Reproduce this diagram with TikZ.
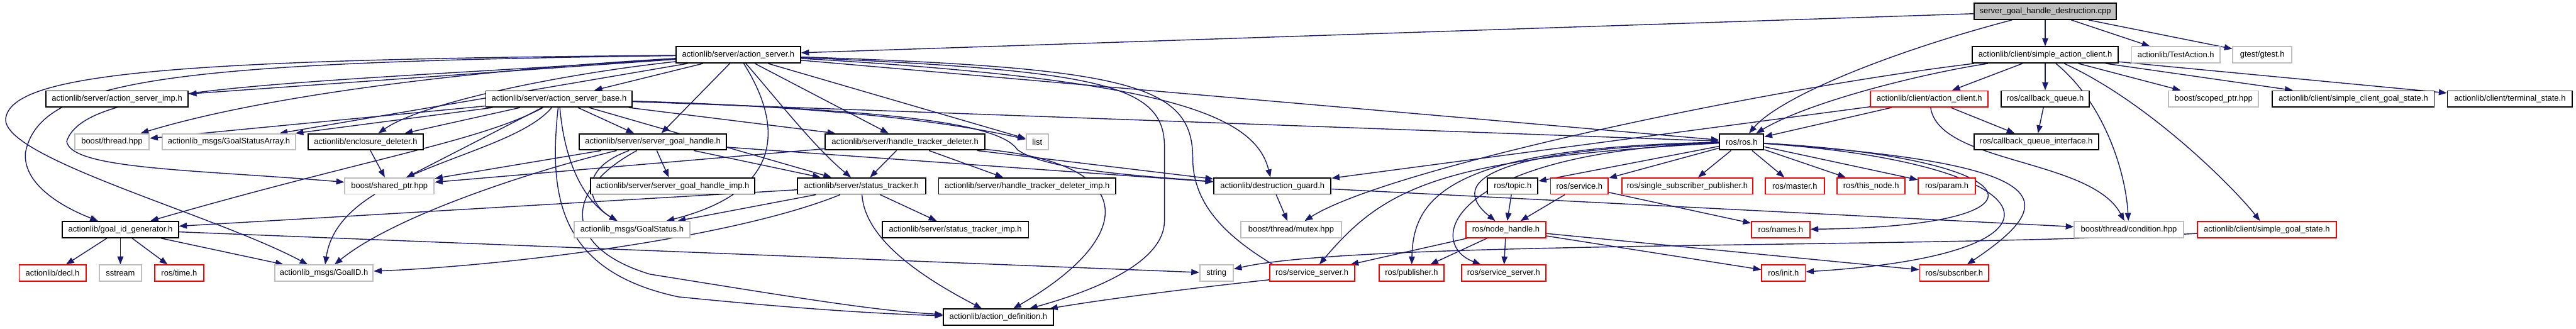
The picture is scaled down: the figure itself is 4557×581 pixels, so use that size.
\documentclass[tikz,border=0pt]{standalone}
\usepackage{fontspec}
\setmainfont{Liberation Sans}
\usepackage{xcolor}
\definecolor{edgeblue}{HTML}{191970}
\definecolor{extgray}{HTML}{BFBFBF}
\definecolor{truncred}{HTML}{FF0000}
\usetikzlibrary{arrows.meta, backgrounds}

\begin{document}
\begin{tikzpicture}[x=0.01cm, y=-0.01cm,
  every node/.style={font=\fontsize{4.1}{5}\selectfont, inner sep=0pt, minimum height=0.285cm},
  hdr/.style={draw=black, line width=0.6pt, fill=white},
  ext/.style={draw=extgray, line width=0.6pt, fill=white},
  trunc/.style={draw=truncred, line width=0.6pt, fill=white},
  root/.style={draw=black, line width=0.6pt, fill=extgray},
  inc/.style={draw=edgeblue, line width=0.45pt, -{Triangle[length=4pt,width=3pt]}}]

  \useasboundingbox (0,0) rectangle (4557,581);

  % Root and first level
  \node[root, minimum width=2.52cm] (cpp) at (3618,20) {server\_goal\_handle\_destruction.cpp};
  \node[hdr, minimum width=2.20cm] (as) at (1306,97) {actionlib/server/action\_server.h};
  \node[hdr, minimum width=2.58cm] (sac) at (3618,97) {actionlib/client/simple\_action\_client.h};
  \node[ext, minimum width=1.56cm] (testact) at (3849,97) {actionlib/TestAction.h};
  \node[ext, minimum width=1.04cm] (gtest) at (4002,97) {gtest/gtest.h};

  % Row 3
  \node[hdr, minimum width=2.51cm] (asimp) at (207,175) {actionlib/server/action\_server\_imp.h};
  \node[hdr, minimum width=2.59cm] (asbase) at (989,175) {actionlib/server/action\_server\_base.h};
  \node[trunc, minimum width=2.08cm] (ac) at (3413,175) {actionlib/client/action\_client.h};
  \node[hdr, minimum width=1.56cm] (cbq) at (3618,175) {ros/callback\_queue.h};
  \node[ext, minimum width=1.59cm] (scoped) at (3916,175) {boost/scoped\_ptr.hpp};
  \node[hdr, minimum width=2.86cm] (scgs) at (4163,175) {actionlib/client/simple\_client\_goal\_state.h};
  \node[hdr, minimum width=2.21cm] (term) at (4440,175) {actionlib/client/terminal\_state.h};

  % Row 4
  \node[ext, minimum width=1.32cm] (thread) at (198,251) {boost/thread.hpp};
  \node[ext, minimum width=2.36cm] (gsa) at (405,251) {actionlib\_msgs/GoalStatusArray.h};
  \node[hdr, minimum width=2.03cm] (encl) at (647,251) {actionlib/enclosure\_deleter.h};
  \node[hdr, minimum width=2.60cm] (sgh) at (1155,251) {actionlib/server/server\_goal\_handle.h};
  \node[hdr, minimum width=2.82cm] (htd) at (1601,251) {actionlib/server/handle\_tracker\_deleter.h};
  \node[ext, minimum width=0.39cm] (list) at (1835,251) {list};
  \node[hdr, minimum width=0.78cm] (ros) at (3081,251) {ros/ros.h};
  \node[hdr, minimum width=2.20cm] (cbqi) at (3602,251) {ros/callback\_queue\_interface.h};

  % Row 5
  \node[ext, minimum width=1.58cm] (shared) at (689,329) {boost/shared\_ptr.hpp};
  \node[hdr, minimum width=2.90cm] (sghimp) at (1190,329) {actionlib/server/server\_goal\_handle\_imp.h};
  \node[hdr, minimum width=2.27cm] (st) at (1524,329) {actionlib/server/status\_tracker.h};
  \node[hdr, minimum width=3.13cm] (htdimp) at (1817,329) {actionlib/server/handle\_tracker\_deleter\_imp.h};
  \node[hdr, minimum width=2.07cm] (dg) at (2251,329) {actionlib/destruction\_guard.h};
  \node[hdr, minimum width=0.89cm] (topic) at (2676,329) {ros/topic.h};
  \node[trunc, minimum width=1.02cm] (service) at (2794,329) {ros/service.h};
  \node[trunc, minimum width=2.31cm] (ssp) at (2985,329) {ros/single\_subscriber\_publisher.h};
  \node[trunc, minimum width=1.04cm] (master) at (3175,329) {ros/master.h};
  \node[trunc, minimum width=1.20cm] (thisnode) at (3310,329) {ros/this\_node.h};
  \node[trunc, minimum width=1.01cm] (param) at (3444,329) {ros/param.h};

  % Row 6
  \node[hdr, minimum width=2.05cm] (gidgen) at (213,406) {actionlib/goal\_id\_generator.h};
  \node[ext, minimum width=2.04cm] (gs) at (1118,406) {actionlib\_msgs/GoalStatus.h};
  \node[hdr, minimum width=2.59cm] (stimp) at (1690,406) {actionlib/server/status\_tracker\_imp.h};
  \node[ext, minimum width=1.78cm] (mutex) at (2284,406) {boost/thread/mutex.hpp};
  \node[trunc, minimum width=1.41cm] (nh) at (2664,406) {ros/node\_handle.h};
  \node[trunc, minimum width=1.03cm] (names) at (3150,406) {ros/names.h};
  \node[ext, minimum width=1.93cm] (cond) at (3766,406) {boost/thread/condition.hpp};
  \node[trunc, minimum width=2.45cm] (sgs) at (4010,406) {actionlib/client/simple\_goal\_state.h};

  % Row 7
  \node[trunc, minimum width=1.18cm] (decl) at (93,483) {actionlib/decl.h};
  \node[ext, minimum width=0.74cm] (sstream) at (213,483) {sstream};
  \node[trunc, minimum width=0.86cm] (rtime) at (317,483) {ros/time.h};
  \node[ext, minimum width=1.74cm] (goalid) at (573,483) {actionlib\_msgs/GoalID.h};
  \node[ext, minimum width=0.59cm] (string) at (2152,483) {string};
  \node[trunc, minimum width=1.50cm] (srv1) at (2321,483) {ros/service\_server.h};
  \node[trunc, minimum width=1.15cm] (pub) at (2497,483) {ros/publisher.h};
  \node[trunc, minimum width=1.49cm] (srv2) at (2660,483) {ros/service\_server.h};
  \node[trunc, minimum width=0.77cm] (init) at (3155,483) {ros/init.h};
  \node[trunc, minimum width=1.22cm] (sub) at (3457,483) {ros/subscriber.h};

  % Bottom
  \node[hdr, minimum width=1.94cm] (adef) at (1766,561) {actionlib/action\_definition.h};

  \begin{pgfonlayer}{background}
  \fill[white] (0,0) rectangle (4557,581);

  % root
  \draw[inc] (cpp) -- (as);
  \draw[inc] (cpp) -- (sac);
  \draw[inc] (cpp) -- (testact);
  \draw[inc] (cpp) -- (gtest);
  \draw[inc] (cpp) .. controls (3350,90) and (3150,170) .. (ros);

  % simple action client
  \draw[inc] (sac) -- (ac);
  \draw[inc] (sac) -- (cbq);
  \draw[inc] (sac) -- (scoped);
  \draw[inc] (sac) -- (scgs);
  \draw[inc] (sac) -- (term);
  \draw[inc] (sac) .. controls (3400,130) and (3200,180) .. (ros);
  \draw[inc] (sac) .. controls (3100,160) and (2450,300) .. (mutex);
  \draw[inc] (sac) .. controls (3720,180) and (3760,300) .. (cond);
  \draw[inc] (sac) .. controls (3800,180) and (3950,330) .. (sgs);
  \draw[inc] (ac) -- (ros);
  \draw[inc] (ac) -- (cbqi);
  \draw[inc] (ac) -- (dg);
  \draw[inc] (ac) .. controls (3430,290) and (3700,280) .. (cond);
  \draw[inc] (cbq) -- (cbqi);

  % action server
  \draw[inc] (as) -- (asimp);
  \draw[inc] (as) -- (asbase);
  \draw[inc] (as) .. controls (900,120) and (500,160) .. (thread);
  \draw[inc] (as) -- (gsa);
  \draw[inc] (as) .. controls (1000,130) and (750,180) .. (encl);
  \draw[inc] (as) .. controls (500,150) and (150,150) .. (118,250) .. controls (125,300) and (350,300) .. (shared);
  \draw[inc] (as) .. controls (300,110) and (70,140) .. (45,270) .. controls (40,330) and (120,370) .. (gidgen);
  \draw[inc] (as) .. controls (300,105) and (20,130) .. (10,210) .. controls (5,280) and (380,380) .. (goalid);
  \draw[inc] (as) -- (sgh);
  \draw[inc] (as) .. controls (1370,170) and (1440,260) .. (st);
  \draw[inc] (as) .. controls (1390,230) and (1380,340) .. (gs);
  \draw[inc] (as) -- (htd);
  \draw[inc] (as) -- (list);
  \draw[inc] (as) -- (ros);
  \draw[inc] (as) .. controls (2050,140) and (2220,200) .. (dg);
  \draw[inc] (as) .. controls (1950,125) and (2060,150) .. (2060,260) -- (2060,390) .. controls (2060,460) and (1950,510) .. (adef);
  \draw[inc] (as) .. controls (2000,120) and (2110,150) .. (2110,280) .. controls (2110,380) and (2200,440) .. (2290,490) .. controls (2100,510) and (1950,530) .. (adef);

  % server base
  \draw[inc] (asbase) -- (thread);
  \draw[inc] (asbase) -- (gsa);
  \draw[inc] (asbase) -- (encl);
  \draw[inc] (asbase) -- (shared);
  \draw[inc] (asbase) .. controls (850,250) and (650,280) .. (gidgen);
  \draw[inc] (asbase) .. controls (900,280) and (600,300) .. (goalid);
  \draw[inc] (asbase) .. controls (1000,300) and (1040,360) .. (gs);
  \draw[inc] (asbase) -- (sgh);
  \draw[inc] (asbase) -- (htd);
  \draw[inc] (asbase) -- (st);
  \draw[inc] (asbase) .. controls (1500,190) and (1700,220) .. (list);
  \draw[inc] (asbase) -- (ros);
  \draw[inc] (asbase) .. controls (1600,195) and (1770,220) .. (1800,265) .. controls (1850,300) and (2000,310) .. (dg);
  \draw[inc] (asbase) .. controls (970,350) and (990,480) .. (1200,525) .. controls (1400,545) and (1550,555) .. (adef);

  % goal handle and trackers
  \draw[inc] (sgh) -- (shared);
  \draw[inc] (sgh) -- (sghimp);
  \draw[inc] (sgh) -- (st);
  \draw[inc] (sgh) .. controls (1020,300) and (1040,360) .. (gs);
  \draw[inc] (sgh) .. controls (950,300) and (700,380) .. (goalid);
  \draw[inc] (sgh) -- (dg);
  \draw[inc] (sgh) .. controls (990,340) and (1000,440) .. (1150,485) .. controls (1400,525) and (1550,550) .. (adef);
  \draw[inc] (htd) -- (shared);
  \draw[inc] (htd) -- (st);
  \draw[inc] (htd) -- (htdimp);
  \draw[inc] (htd) -- (dg);
  \draw[inc] (htd) .. controls (2020,290) and (2010,420) .. (adef);
  \draw[inc] (st) -- (gs);
  \draw[inc] (st) -- (stimp);
  \draw[inc] (st) -- (gidgen);
  \draw[inc] (st) .. controls (1300,420) and (900,470) .. (goalid);
  \draw[inc] (st) .. controls (1530,430) and (1650,500) .. (adef);
  \draw[inc] (encl) -- (shared);

  % goal id generator
  \draw[inc] (gidgen) -- (decl);
  \draw[inc] (gidgen) -- (sstream);
  \draw[inc] (gidgen) -- (rtime);
  \draw[inc] (gidgen) -- (goalid);
  \draw[inc] (gidgen) -- (string);
  \draw[inc] (dg) -- (mutex);
  \draw[inc] (dg) -- (cond);
  \draw[inc] (sgs) .. controls (3400,440) and (2400,425) .. (string);

  % ros
  \draw[inc] (ros) -- (topic);
  \draw[inc] (ros) -- (service);
  \draw[inc] (ros) -- (ssp);
  \draw[inc] (ros) -- (master);
  \draw[inc] (ros) -- (thisnode);
  \draw[inc] (ros) -- (param);
  \draw[inc] (ros) .. controls (2600,265) and (2570,330) .. (nh);
  \draw[inc] (ros) .. controls (2550,280) and (2450,330) .. (srv1);
  \draw[inc] (ros) .. controls (2560,260) and (2500,350) .. (pub);
  \draw[inc] (ros) .. controls (2560,270) and (2520,430) .. (srv2);
  \draw[inc] (ros) .. controls (3600,280) and (3660,400) .. (names);
  \draw[inc] (ros) .. controls (3640,290) and (3700,450) .. (init);
  \draw[inc] (ros) .. controls (3660,290) and (3640,360) .. (sub);
  \draw[inc] (topic) -- (nh);
  \draw[inc] (service) -- (nh);
  \draw[inc] (service) -- (names);
  \draw[inc] (nh) -- (srv1);
  \draw[inc] (nh) -- (pub);
  \draw[inc] (nh) -- (srv2);
  \draw[inc] (nh) -- (init);
  \draw[inc] (nh) -- (sub);
  \end{pgfonlayer}
\end{tikzpicture}
\end{document}
